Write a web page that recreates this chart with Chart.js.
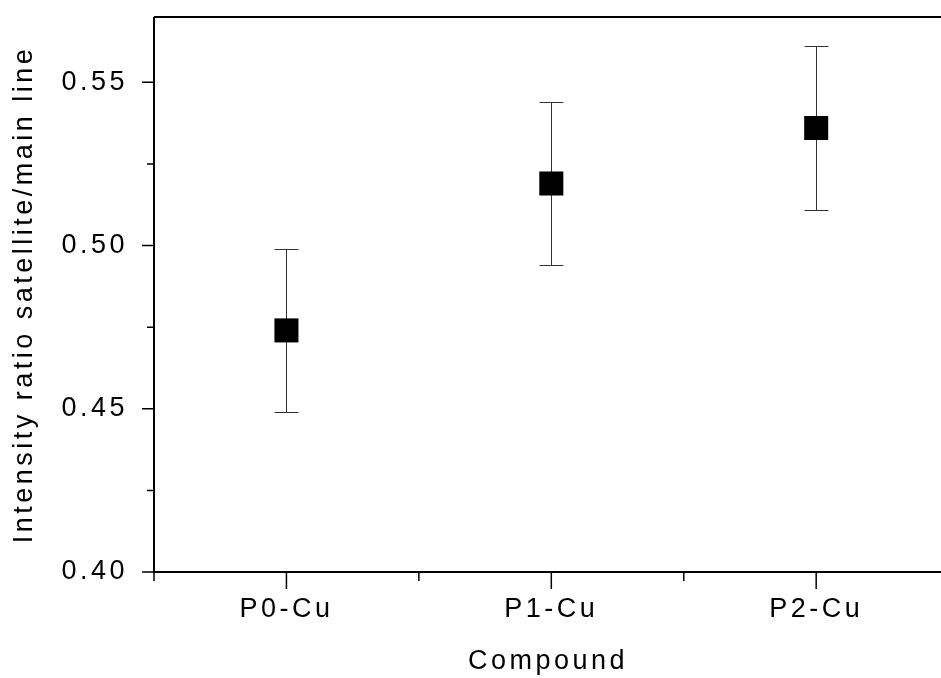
<!DOCTYPE html>
<html>
<head>
<meta charset="utf-8">
<script src="https://cdn.jsdelivr.net/npm/chart.js@4.4.1/dist/chart.umd.min.js"></script>
<style>
  html, body { margin: 0; padding: 0; background: #fff; overflow: hidden; width: 941px; height: 678px; }
  canvas { display: block; }
</style>
</head>
<body>
<!-- canvas a little wider than the window: the plot is cut at the right edge like the original -->
<canvas id="myChart" width="959" height="678"></canvas>
<script>
const categories = ['P0-Cu', 'P1-Cu', 'P2-Cu'];
const positions = [1, 2, 3];
const ratios = [0.474, 0.519, 0.536];
const errors = [0.025, 0.025, 0.025];
const yMajorTicks = [0.40, 0.45, 0.50, 0.55];
const yMinorTicks = [0.425, 0.475, 0.525];
const xMinorTicks = [1.5, 2.5];

const FONT = '"Liberation Sans", Arial, sans-serif';

// letter spacing like the original plot software
const spacingPlugin = {
    id: 'spacing',
    beforeDraw(chart) {
        chart.ctx.letterSpacing = '3.5px';
    }
};

const errorBarPlugin = {
    id: 'errorBars',
    beforeDatasetsDraw(chart) {
        const ctx = chart.ctx;
        const xs = chart.scales.x, ys = chart.scales.y;
        ctx.save();
        ctx.strokeStyle = '#333';
        ctx.lineWidth = 1;
        positions.forEach((p, i) => {
            const x = Math.round(xs.getPixelForValue(p)) + 0.5;
            const yTop = Math.round(ys.getPixelForValue(ratios[i] + errors[i])) + 0.5;
            const yBot = Math.round(ys.getPixelForValue(ratios[i] - errors[i])) + 0.5;
            ctx.beginPath();
            ctx.moveTo(x, yTop); ctx.lineTo(x, yBot);
            ctx.moveTo(x - 12, yTop); ctx.lineTo(x + 12, yTop);
            ctx.moveTo(x - 12, yBot); ctx.lineTo(x + 12, yBot);
            ctx.stroke();
        });
        ctx.restore();
    }
};

const framePlugin = {
    id: 'frame',
    afterDraw(chart) {
        const ctx = chart.ctx;
        const a = chart.chartArea;
        const xs = chart.scales.x, ys = chart.scales.y;
        ctx.save();
        ctx.strokeStyle = '#000';
        ctx.lineWidth = 2;
        ctx.beginPath();
        ctx.moveTo(a.left, a.top); ctx.lineTo(chart.width, a.top);
        ctx.moveTo(a.left, a.top); ctx.lineTo(a.left, a.bottom);
        ctx.moveTo(a.left - 1, a.bottom); ctx.lineTo(chart.width, a.bottom);
        ctx.stroke();
        // y ticks
        ctx.lineWidth = 1.5;
        ctx.beginPath();
        yMajorTicks.forEach(v => {
            const y = ys.getPixelForValue(v);
            ctx.moveTo(a.left - 12, y); ctx.lineTo(a.left, y);
        });
        yMinorTicks.forEach(v => {
            const y = ys.getPixelForValue(v);
            ctx.moveTo(a.left - 7, y); ctx.lineTo(a.left, y);
        });
        // x ticks
        positions.forEach(v => {
            const x = xs.getPixelForValue(v);
            ctx.moveTo(x, a.bottom); ctx.lineTo(x, a.bottom + 17);
        });
        [0.5].concat(xMinorTicks).forEach(v => {
            const x = xs.getPixelForValue(v);
            ctx.moveTo(x, a.bottom); ctx.lineTo(x, a.bottom + 9);
        });
        ctx.stroke();
        ctx.restore();
    }
};

function noPadding(scale) {
    scale.paddingTop = 0;
    scale.paddingBottom = 0;
    scale.paddingLeft = 0;
    scale.paddingRight = 0;
}

const config = {
    type: 'scatter',
    data: {
        datasets: [{
            label: 'Intensity ratio',
            data: positions.map((p, i) => ({ x: p, y: ratios[i] })),
            pointStyle: 'rect',
            pointRadius: 17,
            backgroundColor: '#000',
            borderColor: '#000',
            borderWidth: 0
        }]
    },
    options: {
        responsive: false,
        devicePixelRatio: 1,
        animation: false,
        layout: { padding: { top: 15, right: 0, left: 0, bottom: 0 } },
        plugins: {
            legend: { display: false },
            tooltip: { enabled: false }
        },
        scales: {
            x: {
                type: 'linear',
                min: 0.5,
                max: 3.475,
                afterFit(scale) { scale.height = 106; noPadding(scale); },
                afterBuildTicks(scale) {
                    scale.ticks = positions.map(v => ({ value: v }));
                },
                grid: { display: false, drawTicks: false },
                border: { display: false },
                ticks: {
                    padding: 21,
                    color: '#000',
                    font: { family: FONT, size: 27 },
                    maxRotation: 0,
                    callback: v => categories[positions.indexOf(v)]
                },
                title: {
                    display: true,
                    text: 'Compound',
                    color: '#000',
                    font: { family: FONT, size: 27 },
                    padding: { top: 0, bottom: 0 }
                }
            },
            y: {
                min: 0.40,
                max: 0.57,
                afterFit(scale) { scale.width = 154; noPadding(scale); },
                afterBuildTicks(scale) {
                    scale.ticks = yMajorTicks.map(v => ({ value: v }));
                },
                grid: { display: false, drawTicks: false },
                border: { display: false },
                ticks: {
                    padding: 26,
                    color: '#000',
                    font: { family: FONT, size: 27 },
                    callback: v => v.toFixed(2)
                },
                title: {
                    display: true,
                    text: 'Intensity ratio satellite/main line',
                    color: '#000',
                    font: { family: FONT, size: 27 },
                    padding: { top: 8, bottom: 0 }
                }
            }
        }
    },
    plugins: [spacingPlugin, errorBarPlugin, framePlugin]
};

const myChart = new Chart(document.getElementById('myChart'), config);
</script>
</body>
</html>
